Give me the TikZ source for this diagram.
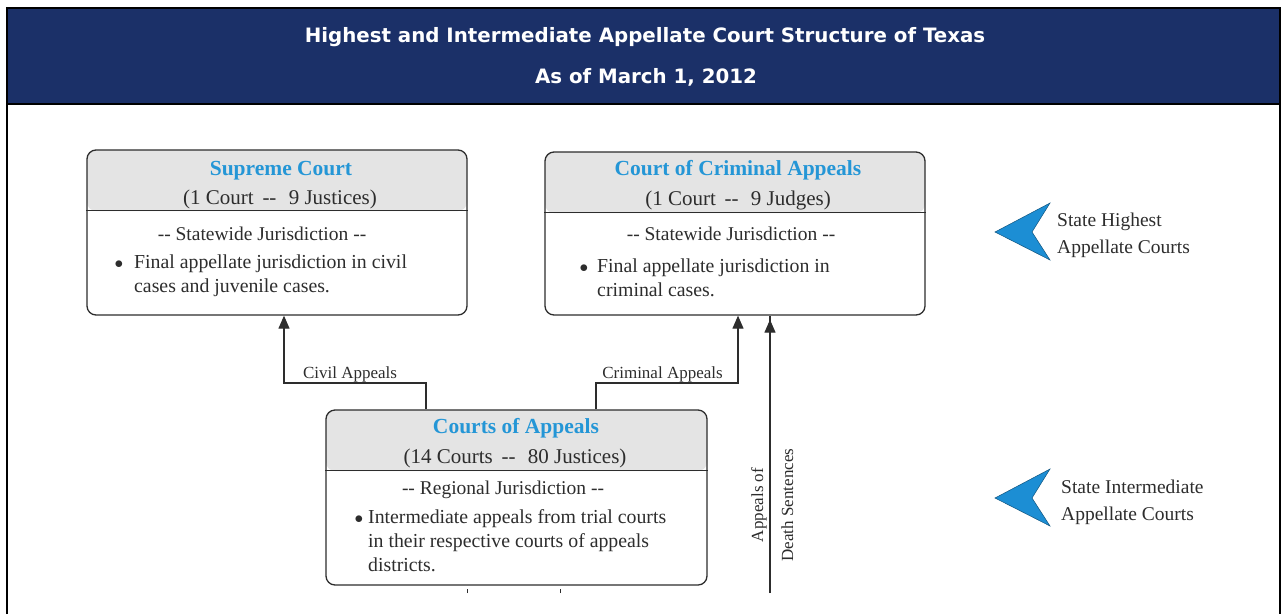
\documentclass[tikz,border=0pt]{standalone}
\usepackage{fontspec}
\setmainfont{Liberation Serif}
\newfontfamily\headfont{DejaVu Sans}
\usetikzlibrary{arrows.meta,calc}
\definecolor{navy}{RGB}{27,48,104}
\definecolor{titleblue}{RGB}{36,150,214}
\definecolor{chev}{RGB}{28,142,212}
\definecolor{hdrgray}{RGB}{228,228,228}
\definecolor{ink}{RGB}{45,45,45}
\begin{document}
\begin{tikzpicture}[x=1pt,y=-1pt,
  court/.style={draw=ink, line width=1.3pt, rounded corners=9pt, inner sep=0pt},
  ctitle/.style={anchor=base, font=\fontsize{21.5}{24}\selectfont\bfseries, text=titleblue, inner sep=0pt},
  csub/.style={anchor=base, font=\fontsize{21}{24}\selectfont, text=ink, inner sep=0pt},
  ctext/.style={anchor=base west, font=\fontsize{19.8}{22}\selectfont, text=ink, inner sep=0pt},
  cjur/.style={anchor=base, font=\fontsize{19.5}{22}\selectfont, text=ink, inner sep=0pt},
  bul/.style={anchor=base, font=\fontsize{16}{20}\selectfont, text=ink, inner sep=0pt},
  lab/.style={font=\fontsize{17}{20}\selectfont, text=ink, inner sep=0pt},
  side/.style={anchor=base west, font=\fontsize{19.5}{22}\selectfont, text=ink, inner sep=0pt},
  conn/.style={draw=ink, line width=1.2pt},
  arr/.style={conn, -{Triangle[length=13pt,width=11pt]}},
  chevron/.style={fill=chev, draw=chev!60!black, line width=0.5pt, line join=miter}
]
\useasboundingbox (0,0) rectangle (1287,614);
\fill[white] (0,0) rectangle (1287,614);
% header band
\fill[navy] (7,8) rectangle (1280,104);
\draw[black, line width=2.2pt] (7,614) -- (7,8) -- (1280,8) -- (1280,614);
\draw[black, line width=2pt] (7,104) -- (1280,104);
\node[anchor=base, text=white, inner sep=0pt, font=\headfont\bfseries\fontsize{19.8}{22}\selectfont] (h1) at (645,42) {Highest and Intermediate Appellate Court Structure of Texas};
\node[anchor=base, text=white, inner sep=0pt, font=\headfont\bfseries\fontsize{19.8}{22}\selectfont] (h2) at (646,83) {As of March 1, 2012};

% Supreme Court
\node[court, minimum width=380pt, minimum height=165pt,
  path picture={\fill[hdrgray] (path picture bounding box.north west) rectangle ([yshift=-61pt]path picture bounding box.north east);}]
  (sc) at (277,232.5) {};
\draw[ink, line width=1.3pt] ($(sc.north west)+(0,61)$) -- ($(sc.north east)+(0,61)$);
\node[ctitle] (sct) at (281,175) {Supreme Court};
\node[csub] (scs) at (280,204.5) {(1 Court \,-{}-\,\, 9 Justices)};
\node[cjur] (scj) at (262,240) {-{}- Statewide Jurisdiction -{}-};
\node[bul] (scb) at (119,268) {$\bullet$};
\node[ctext] (scl1) at (134,268) {Final appellate jurisdiction in civil};
\node[ctext] (scl2) at (134,292) {cases and juvenile cases.};

% Court of Criminal Appeals
\node[court, minimum width=380pt, minimum height=163pt,
  path picture={\fill[hdrgray] (path picture bounding box.north west) rectangle ([yshift=-61pt]path picture bounding box.north east);}]
  (cca) at (735,233.5) {};
\draw[ink, line width=1.3pt] ($(cca.north west)+(0,61)$) -- ($(cca.north east)+(0,61)$);
\node[ctitle] (ccat) at (738,175) {Court of Criminal Appeals};
\node[csub] (ccas) at (738,205) {(1 Court \,-{}-\,\, 9 Judges)};
\node[cjur] (ccaj) at (731,240.5) {-{}- Statewide Jurisdiction -{}-};
\node[bul] (ccab) at (584,272) {$\bullet$};
\node[ctext] (ccal1) at (597,272) {Final appellate jurisdiction in};
\node[ctext] (ccal2) at (597,296) {criminal cases.};

% Courts of Appeals
\node[court, minimum width=381pt, minimum height=175pt,
  path picture={\fill[hdrgray] (path picture bounding box.north west) rectangle ([yshift=-61pt]path picture bounding box.north east);}]
  (coa) at (516.5,497.5) {};
\draw[ink, line width=1.3pt] ($(coa.north west)+(0,61)$) -- ($(coa.north east)+(0,61)$);
\node[ctitle] (coat) at (516,433) {Courts of Appeals};
\node[csub] (coas) at (515,463.5) {(14 Courts \,-{}-\,\, 80 Justices)};
\node[cjur] (coaj) at (503,494.5) {-{}- Regional Jurisdiction -{}-};
\node[bul] (coab) at (359,523) {$\bullet$};
\node[ctext] (coal1) at (368,523) {Intermediate appeals from trial courts};
\node[ctext] (coal2) at (368,547) {in their respective courts of appeals};
\node[ctext] (coal3) at (368,571) {districts.};

% connectors
\draw[arr] (426,0 |- coa.north) -- (426,383) -- (284,383) -- (284,0 |- sc.south);
\node[lab, anchor=base] (civ) at (350,378) {Civil Appeals};
\draw[arr] (596,0 |- coa.north) -- (596,383) -- (738,383) -- (738,0 |- cca.south);
\node[lab, anchor=base] (crim) at (662.5,378) {Criminal Appeals};
\coordinate (ds) at (770,593);
\draw[arr] (ds) -- (770,0 |- cca.south) ++(0,4);
\node[lab, anchor=base, rotate=90] (ap) at (763,505) {Appeals of};
\node[lab, anchor=base, rotate=90] (de) at (793,505) {Death Sentences};
% stubs below CoA
\coordinate (s1) at (467,593);
\coordinate (s2) at (560,593);
\draw[ink, line width=1pt] (s1) -- ++(0,-4);
\draw[ink, line width=1pt] (s2) -- ++(0,-4);

% right-hand chevrons
\draw[chevron] (995,232) -- (1050,203) -- (1032,232) -- (1050,260) -- cycle;
\node[side] (sh1) at (1057,226) {State Highest};
\node[side] (sh2) at (1057,253) {Appellate Courts};
\draw[chevron] (995,498) -- (1050,469) -- (1032,498) -- (1050,526) -- cycle;
\node[side] (si1) at (1061,493) {State Intermediate};
\node[side] (si2) at (1061,520) {Appellate Courts};
\end{tikzpicture}
\end{document}
